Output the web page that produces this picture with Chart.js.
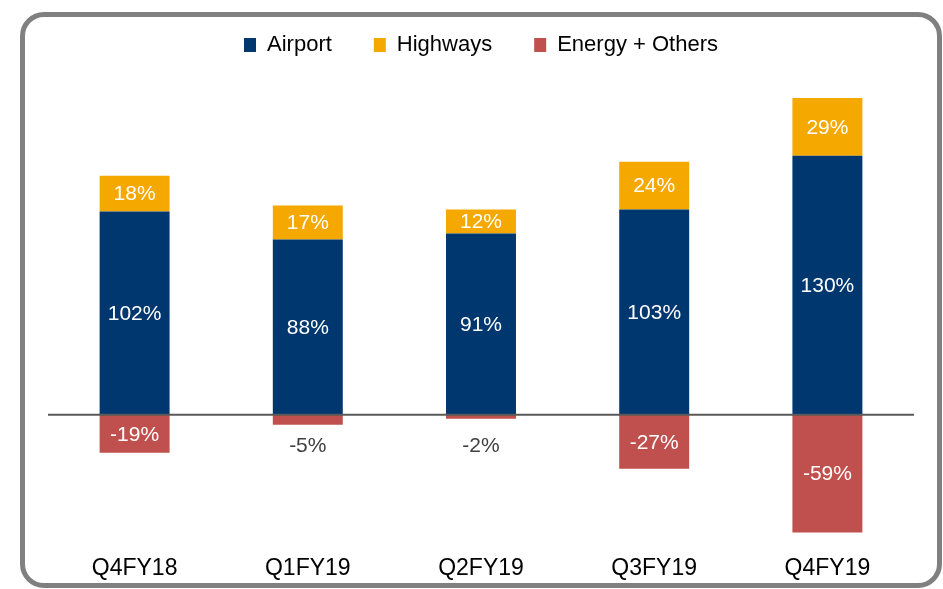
<!DOCTYPE html>
<html>
<head>
<meta charset="utf-8">
<script src="https://cdn.jsdelivr.net/npm/chart.js@4.4.0/dist/chart.umd.min.js"></script>
<style>
    html, body { margin: 0; padding: 0; background: #fff; }
    #frame {
        position: absolute; left: 20px; top: 12px; width: 922px; height: 576px;
        box-sizing: border-box; border: 5px solid #808080; border-radius: 24px;
    }
    #chart { position: absolute; left: 0; top: 0; }
</style>
</head>
<body>
<div id="frame"></div>
<canvas id="chart" width="943" height="589"></canvas>
<script>
    // Dữ liệu biểu đồ
    const quarters = ['Q4FY18', 'Q1FY19', 'Q2FY19', 'Q3FY19', 'Q4FY19'];
    const airport = [102, 88, 91, 103, 130];
    const highways = [18, 17, 12, 24, 29];
    const energyOthers = [-19, -5, -2, -27, -59];

    const colors = {
        airport: '#00376f',
        highways: '#f5a800',
        energy: '#c0504d'
    };
    const fontFamily = '"Liberation Sans", Arial, sans-serif';

    // Vẽ đường 0 ngang
    const zeroLine = {
        id: 'zeroLine',
        afterDatasetsDraw(chart) {
            const ctx = chart.ctx;
            const y = chart.scales.y.getPixelForValue(0);
            ctx.save();
            ctx.strokeStyle = '#595959';
            ctx.lineWidth = 2;
            ctx.beginPath();
            ctx.moveTo(chart.chartArea.left, y);
            ctx.lineTo(chart.chartArea.right, y);
            ctx.stroke();
            ctx.restore();
        }
    };

    // Nhãn giá trị trên từng cột
    const valueLabels = {
        id: 'valueLabels',
        afterDatasetsDraw(chart) {
            const ctx = chart.ctx;
            const zeroY = chart.scales.y.getPixelForValue(0);
            ctx.save();
            ctx.font = '21px ' + fontFamily;
            ctx.textAlign = 'center';
            ctx.textBaseline = 'middle';
            chart.data.datasets.forEach((ds, i) => {
                chart.getDatasetMeta(i).data.forEach((bar, j) => {
                    const text = ds.data[j] + '%';
                    const top = Math.min(bar.y, bar.base);
                    const bottom = Math.max(bar.y, bar.base);
                    if (bottom - top < 18) {
                        ctx.fillStyle = '#404040';
                        ctx.fillText(text, bar.x, zeroY + 31);
                    } else {
                        ctx.fillStyle = '#ffffff';
                        ctx.fillText(text, bar.x, (top + bottom) / 2 + 1);
                    }
                });
            });
            ctx.restore();
        }
    };

    const ctx = document.getElementById('chart').getContext('2d');
    new Chart(ctx, {
        type: 'bar',
        data: {
            labels: quarters,
            datasets: [
                { label: 'Airport', data: airport, backgroundColor: colors.airport },
                { label: 'Highways', data: highways, backgroundColor: colors.highways },
                { label: 'Energy + Others', data: energyOthers, backgroundColor: colors.energy }
            ]
        },
        options: {
            responsive: false,
            animation: false,
            devicePixelRatio: 1,
            layout: { padding: { top: -8, left: 48, right: 29, bottom: -3 } },
            datasets: { bar: { categoryPercentage: 1, barPercentage: 0.404 } },
            plugins: {
                legend: {
                    labels: {
                        boxWidth: 12,
                        boxHeight: 14,
                        padding: 42,
                        color: '#000',
                        font: { family: fontFamily, size: 22 }
                    }
                },
                tooltip: { enabled: false }
            },
            scales: {
                x: {
                    stacked: true,
                    grid: { display: false, drawTicks: false },
                    border: { display: false },
                    ticks: {
                        padding: 10,
                        color: '#000',
                        font: { family: fontFamily, size: 23 }
                    }
                },
                y: {
                    stacked: true,
                    display: false,
                    min: -65,
                    max: 175
                }
            }
        },
        plugins: [zeroLine, valueLabels]
    });
</script>
</body>
</html>
